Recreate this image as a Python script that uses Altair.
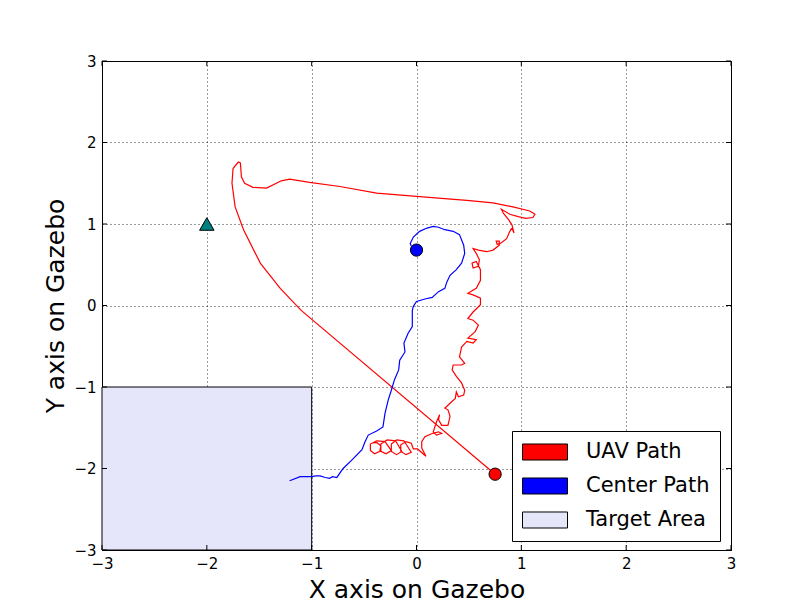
import altair as alt
import pandas as pd

# ---- data (Gazebo coordinates) ----
uav_x = [0.75, -1.10, -1.30, -1.49, -1.65, -1.73, -1.76, -1.75, -1.70, -1.68, -1.67, -1.64,
         -1.56, -1.43, -1.29, -1.21, -1.02, -0.73, -0.38, 0.00, 0.48, 0.73, 0.92, 1.08, 1.13,
         1.11, 1.04, 0.97, 0.89, 0.81, 0.83, 0.88, 0.91, 0.93, 0.91, 0.89, 0.86, 0.81, 0.77,
         0.76, 0.79, 0.79, 0.73, 0.67, 0.59, 0.54, 0.57, 0.60, 0.59, 0.54, 0.53, 0.57, 0.61,
         0.61, 0.57, 0.49, 0.54, 0.61, 0.61, 0.54, 0.49, 0.54, 0.59, 0.56, 0.49, 0.57, 0.54,
         0.48, 0.43, 0.41, 0.46, 0.43, 0.35, 0.34, 0.38, 0.43, 0.46, 0.45, 0.40, 0.38, 0.37,
         0.32, 0.27, 0.30, 0.32, 0.30, 0.24, 0.21, 0.22, 0.19, 0.16, 0.19, 0.24, 0.21, 0.15,
         0.08, 0.05, 0.05, 0.09, 0.01,
         -0.03, -0.05, -0.10, -0.15, -0.15, -0.10, -0.05,
         -0.12, -0.19, -0.24, -0.24, -0.19, -0.14,
         -0.20, -0.28, -0.34, -0.34, -0.29, -0.24,
         -0.30, -0.38, -0.44, -0.44, -0.40, -0.35, -0.34, -0.38, -0.43]
uav_y = [-2.07, -0.06, 0.21, 0.52, 0.93, 1.21, 1.50, 1.68, 1.76, 1.75, 1.58, 1.50,
         1.45, 1.44, 1.53, 1.55, 1.51, 1.46, 1.38, 1.34, 1.29, 1.26, 1.21, 1.16, 1.12,
         1.08, 1.07, 1.09, 1.12, 1.18, 1.13, 1.05, 0.99, 0.89, 0.95, 0.91, 0.82, 0.77, 0.75,
         0.79, 0.79, 0.74, 0.68, 0.66, 0.68, 0.70, 0.64, 0.56, 0.48, 0.46, 0.52, 0.54, 0.44,
         0.31, 0.21, 0.15, 0.13, 0.09, 0.01, -0.08, -0.16, -0.18, -0.24, -0.32, -0.40, -0.42, -0.46,
         -0.44, -0.51, -0.63, -0.71, -0.73, -0.73, -0.79, -0.87, -0.95, -1.04, -1.10, -1.12, -1.06, -1.14,
         -1.20, -1.26, -1.28, -1.36, -1.47, -1.47, -1.40, -1.34, -1.43, -1.55, -1.59, -1.57, -1.55, -1.57,
         -1.61, -1.67, -1.75, -1.85, -1.76,
         -1.76, -1.69, -1.67, -1.71, -1.79, -1.83, -1.80,
         -1.66, -1.65, -1.70, -1.79, -1.83, -1.79,
         -1.66, -1.65, -1.70, -1.79, -1.82, -1.78,
         -1.67, -1.66, -1.70, -1.78, -1.82, -1.79, -1.72, -1.68, -1.69]

center_x = [-1.21, -1.11, -1.00, -0.96, -0.92, -0.87, -0.83, -0.80, -0.76, -0.70, -0.62, -0.52,
            -0.49, -0.46, -0.38, -0.32, -0.30, -0.27, -0.24, -0.21, -0.17, -0.16, -0.11, -0.12,
            -0.08, -0.04, -0.04, -0.03, 0.00, 0.08, 0.15, 0.21, 0.27, 0.29, 0.32, 0.38, 0.43,
            0.46, 0.45, 0.41, 0.35, 0.27, 0.21, 0.16, 0.10, 0.03, -0.03, -0.06, -0.05]
center_y = [-2.15, -2.10, -2.10, -2.09, -2.09, -2.11, -2.12, -2.10, -2.11, -2.00, -1.90, -1.77,
            -1.67, -1.59, -1.54, -1.49, -1.32, -1.16, -1.04, -0.91, -0.79, -0.67, -0.57, -0.46,
            -0.34, -0.26, -0.06, -0.01, 0.05, 0.08, 0.10, 0.17, 0.21, 0.29, 0.37, 0.44, 0.52,
            0.64, 0.74, 0.87, 0.91, 0.93, 0.96, 0.97, 0.95, 0.91, 0.84, 0.76, 0.73]

target_x = [-3, -1]
target_y = [-3, -1]

uav_marker = [0.75, -2.07]
center_marker = [0.0, 0.68]
goal_marker = [-2.0, 1.0]

ticks = [-3, -2, -1, 0, 1, 2, 3]
legend_labels = ["UAV Path", "Center Path", "Target Area"]
legend_colors = ["#ff0000", "#0000ff", "#e6e6fa"]

# ---- tables ----
uav = pd.DataFrame({"x": uav_x, "y": uav_y, "i": range(len(uav_x))})
center = pd.DataFrame({"x": center_x, "y": center_y, "i": range(len(center_x))})
target = pd.DataFrame({"x": [target_x[0]], "x2": [target_x[1]], "y": [target_y[0]], "y2": [target_y[1]]})
tick_df = pd.DataFrame({"t": ticks})
legend_df = pd.DataFrame({
    "x": [uav_marker[0], center_marker[0], goal_marker[0]],
    "y": [uav_marker[1], center_marker[1], goal_marker[1]],
    "series": legend_labels,
})

W, H = 629, 489
FONT = "DejaVu Sans"
xs = alt.Scale(domain=[-3, 3], nice=False, zero=False)
ys = alt.Scale(domain=[-3, 3], nice=False, zero=False)
x_axis = alt.Axis(values=ticks, format="d", title="X axis on Gazebo", labelPadding=6,
                  titlePadding=6, labelFlush=False, labelOverlap=False)
y_axis = alt.Axis(values=ticks, format="d", title="Y axis on Gazebo", labelPadding=6,
                  titlePadding=5, labelFlush=False, labelOverlap=False)


def X(field="x"):
    return alt.X(f"{field}:Q", scale=xs, axis=x_axis)


def Y(field="y"):
    return alt.Y(f"{field}:Q", scale=ys, axis=y_axis)


rect = alt.Chart(target).mark_rect(fill="#e6e6fa", stroke="black", strokeWidth=1).encode(
    x=X(), x2="x2:Q", y=Y(), y2="y2:Q")

uav_line = alt.Chart(uav).mark_line(color="#ff0000", strokeWidth=1.2).encode(
    x=X(), y=Y(), order="i:Q")
center_line = alt.Chart(center).mark_line(color="#0000ff", strokeWidth=1.2).encode(
    x=X(), y=Y(), order="i:Q")

uav_pt = alt.Chart(pd.DataFrame({"x": [uav_marker[0]], "y": [uav_marker[1]]})).mark_point(
    shape="circle", filled=True, fill="#ff0000", stroke="black", strokeWidth=1, size=150, opacity=1
).encode(x=X(), y=Y())
center_pt = alt.Chart(pd.DataFrame({"x": [center_marker[0]], "y": [center_marker[1]]})).mark_point(
    shape="circle", filled=True, fill="#0000ff", stroke="black", strokeWidth=1, size=150, opacity=1
).encode(x=X(), y=Y())
goal_pt = alt.Chart(pd.DataFrame({"x": [goal_marker[0]], "y": [goal_marker[1]]})).mark_point(
    shape="triangle-up", filled=True, fill="#008080", stroke="black", strokeWidth=1, size=210, opacity=1
).encode(x=X(), y=Y())

# inward ticks on all four sides
TL = 5
tb = alt.Chart(tick_df).mark_rule(color="black", strokeWidth=1).encode(
    x=alt.X("t:Q", scale=xs, axis=x_axis), y=alt.value(H), y2=alt.value(H - TL))
tt = alt.Chart(tick_df).mark_rule(color="black", strokeWidth=1).encode(
    x=alt.X("t:Q", scale=xs, axis=x_axis), y=alt.value(0), y2=alt.value(TL))
tl = alt.Chart(tick_df).mark_rule(color="black", strokeWidth=1).encode(
    y=alt.Y("t:Q", scale=ys, axis=y_axis), x=alt.value(0), x2=alt.value(TL))
tr = alt.Chart(tick_df).mark_rule(color="black", strokeWidth=1).encode(
    y=alt.Y("t:Q", scale=ys, axis=y_axis), x=alt.value(W), x2=alt.value(W - TL))

legend_layer = alt.Chart(legend_df).mark_point(filled=True, opacity=0, size=10).encode(
    x=X(), y=Y(),
    color=alt.Color("series:N", scale=alt.Scale(domain=legend_labels, range=legend_colors),
                    legend=alt.Legend(
                        orient="none", legendX=410, legendY=370, title=None,
                        symbolType="M-1,-0.356H1V0.356H-1Z", symbolSize=2025,
                        symbolStrokeColor="black", symbolStrokeWidth=1, symbolOpacity=1,
                        labelFont=FONT, labelFontSize=21, labelColor="black", labelOffset=18,
                        strokeColor="black", fillColor="white", padding=10, rowPadding=12,
                        clipHeight=22, cornerRadius=0, labelLimit=300)),
)

chart = alt.layer(rect, uav_line, center_line, uav_pt, center_pt, goal_pt,
                  tb, tt, tl, tr, legend_layer).properties(
    width=W, height=H,
    autosize=alt.AutoSizeParams(type="none"),
    padding={"left": 94, "top": 53, "right": 70, "bottom": 54},
).configure_view(stroke="black", strokeWidth=1).configure_axis(
    domain=False, ticks=False, grid=True, gridColor="black", gridDash=[1, 3], gridWidth=0.8,
    labelFont=FONT, labelFontSize=15, labelColor="black",
    titleFont=FONT, titleFontSize=25, titleFontWeight="normal", titleColor="black",
)

chart.save("out.html", embed_options={"renderer": "svg", "actions": False})
